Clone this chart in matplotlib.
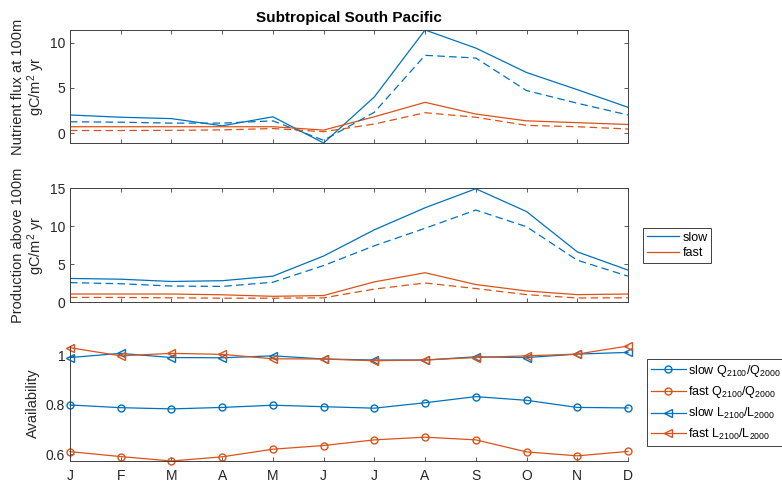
"""
Seasonal nutrient flux, production and availability, Subtropical South Pacific.
"""

import numpy as np
import matplotlib
matplotlib.use("Agg")
import matplotlib.pyplot as plt

plt.rcParams["font.family"] = ["Liberation Sans", "DejaVu Sans"]
plt.rcParams["mathtext.fontset"] = "custom"
plt.rcParams["mathtext.rm"] = "Liberation Sans"
plt.rcParams["mathtext.it"] = "Liberation Sans:italic"

months = ["J", "F", "M", "A", "M", "J", "J", "A", "S", "O", "N", "D"]

# nutrient flux at 100m (gC/m^2 yr); solid = 2000, dashed = 2100
flux_slow = [2.0, 1.75, 1.6, 0.8, 1.8, -1.1, 4.0, 11.4, 9.4, 6.7, 4.8, 2.85]
flux_slow_2100 = [1.25, 1.2, 1.1, 1.1, 1.35, -0.8, 2.3, 8.6, 8.3, 4.7, 3.3, 2.0]
flux_fast = [0.7, 0.7, 0.7, 0.7, 0.7, 0.33, 1.8, 3.4, 2.1, 1.35, 1.15, 0.95]
flux_fast_2100 = [0.28, 0.28, 0.3, 0.35, 0.5, 0.15, 1.0, 2.25, 1.75, 0.85, 0.7, 0.45]

# production above 100m (gC/m^2 yr)
prod_slow = [3.1, 3.0, 2.7, 2.8, 3.4, 6.05, 9.5, 12.4, 14.9, 11.9, 6.6, 4.2]
prod_slow_2100 = [2.55, 2.4, 2.1, 2.05, 2.6, 4.8, 7.4, 9.7, 12.1, 9.9, 5.5, 3.4]
prod_fast = [1.05, 1.05, 1.05, 0.95, 0.75, 0.85, 2.65, 3.85, 2.3, 1.45, 0.97, 1.05]
prod_fast_2100 = [0.6, 0.6, 0.55, 0.5, 0.5, 0.55, 1.7, 2.5, 1.77, 0.97, 0.53, 0.55]

# availability ratios
q_slow = [0.80, 0.789, 0.784, 0.79, 0.799, 0.793, 0.787, 0.809, 0.834, 0.819, 0.79, 0.788]
q_fast = [0.61, 0.59, 0.572, 0.589, 0.62, 0.635, 0.658, 0.669, 0.658, 0.609, 0.593, 0.611]
l_slow = [0.993, 1.01, 0.993, 0.992, 1.0, 0.987, 0.983, 0.983, 0.996, 0.993, 1.007, 1.014]
l_fast = [1.033, 1.0, 1.01, 1.006, 0.988, 0.987, 0.98, 0.983, 0.993, 1.0, 1.007, 1.04]

BLUE = "#0072BD"
ORANGE = "#D95319"
AXC = "#404040"
TXT = "#262626"

W, H = 782, 483
fig = plt.figure(figsize=(W / 100, H / 100), dpi=100)


def fig_rect(left_px, top_px, right_px, bottom_px):
    return [left_px / W, 1 - bottom_px / H, (right_px - left_px) / W, (bottom_px - top_px) / H]


def style_axes(ax, box=True):
    ax.tick_params(direction="in", length=3, width=0.6, colors=AXC,
                   labelcolor=TXT, labelsize=10,
                   top=box, right=box)
    for side, sp in ax.spines.items():
        sp.set_color(AXC)
        sp.set_linewidth(0.7)
        if not box and side in ("top", "right"):
            sp.set_visible(False)
    ax.set_xlim(0, len(months) - 1)
    ax.set_xticks(np.arange(len(months)))


x = np.arange(len(months))
lw = 0.9
dash = (6, 3.5)
label_fs = 10.5

# --- top panel
ax1 = fig.add_axes(fig_rect(70, 30, 628, 143))
ax1.plot(x, flux_slow, color=BLUE, lw=lw)
ax1.plot(x, flux_fast, color=ORANGE, lw=lw)
ax1.plot(x, flux_slow_2100, color=BLUE, lw=lw, ls=(0, dash))
ax1.plot(x, flux_fast_2100, color=ORANGE, lw=lw, ls=(0, dash))
style_axes(ax1)
ax1.set_ylim(min(flux_slow), max(flux_slow))
ax1.set_yticks([0, 5, 10])
ax1.set_xticklabels([])
ax1.set_ylabel("Nutrient flux at 100m\ngC/m$^2$ yr", fontsize=label_fs, color=TXT,
               linespacing=1.0)
ax1.set_title("Subtropical South Pacific", fontsize=11, fontweight="bold", pad=6)

# --- middle panel
ax2 = fig.add_axes(fig_rect(70, 188, 628, 302))
l1, = ax2.plot(x, prod_slow, color=BLUE, lw=lw, label="slow")
l2, = ax2.plot(x, prod_fast, color=ORANGE, lw=lw, label="fast")
ax2.plot(x, prod_slow_2100, color=BLUE, lw=lw, ls=(0, dash))
ax2.plot(x, prod_fast_2100, color=ORANGE, lw=lw, ls=(0, dash))
style_axes(ax2)
ax2.set_ylim(0, 15)
ax2.set_yticks([0, 5, 10, 15])
ax2.set_xticklabels([])
ax2.set_ylabel("Production above 100m\ngC/m$^2$ yr", fontsize=label_fs, color=TXT,
               linespacing=1.0)
leg2 = ax2.legend(handles=[l1, l2], loc="upper left",
                  bbox_to_anchor=(643 / W, 1 - 228 / H), bbox_transform=fig.transFigure,
                  fontsize=9, fancybox=False, framealpha=1, edgecolor=AXC,
                  handlelength=2.6, handletextpad=0.25, borderpad=0.3,
                  labelspacing=0.25, borderaxespad=0)
leg2.get_frame().set_linewidth(0.7)

# --- bottom panel
ax3 = fig.add_axes(fig_rect(70, 346, 628, 461))
ms = 5
h1, = ax3.plot(x, q_slow, color=BLUE, lw=lw, marker="o", ms=ms, mfc="none",
               label="slow Q$_{2100}$/Q$_{2000}$")
h2, = ax3.plot(x, q_fast, color=ORANGE, lw=lw, marker="o", ms=ms, mfc="none",
               label="fast Q$_{2100}$/Q$_{2000}$")
h3, = ax3.plot(x, l_slow, color=BLUE, lw=lw, marker="<", ms=ms + 1, mfc="none",
               label="slow L$_{2100}$/L$_{2000}$")
h4, = ax3.plot(x, l_fast, color=ORANGE, lw=lw, marker="<", ms=ms + 1, mfc="none",
               label="fast L$_{2100}$/L$_{2000}$")
style_axes(ax3, box=False)
ax3.set_ylim(min(q_fast), max(l_fast))
ax3.set_yticks([0.6, 0.8, 1.0])
ax3.set_yticklabels(["0.6", "0.8", "1"])
ax3.set_xticklabels(months)
ax3.tick_params(axis="x", pad=6)
for h in (h1, h2, h3, h4):
    h.set_clip_on(False)
ax3.set_ylabel("Availability", fontsize=label_fs, color=TXT)
leg3 = ax3.legend(handles=[h1, h2, h3, h4], loc="upper left",
                  bbox_to_anchor=(647 / W, 1 - 359 / H), bbox_transform=fig.transFigure,
                  fontsize=9, fancybox=False, framealpha=1, edgecolor=AXC,
                  handlelength=2.8, handletextpad=0.2, borderpad=0.3,
                  labelspacing=0.45, borderaxespad=0)
leg3.get_frame().set_linewidth(0.7)

# y-label placement like the original
ax1.yaxis.set_label_coords(-23 / 558, 0.5)
ax2.yaxis.set_label_coords(-23 / 558, 0.5)
ax3.yaxis.set_label_coords(-30 / 558, 0.5)

fig.savefig("out.png", dpi=100)
